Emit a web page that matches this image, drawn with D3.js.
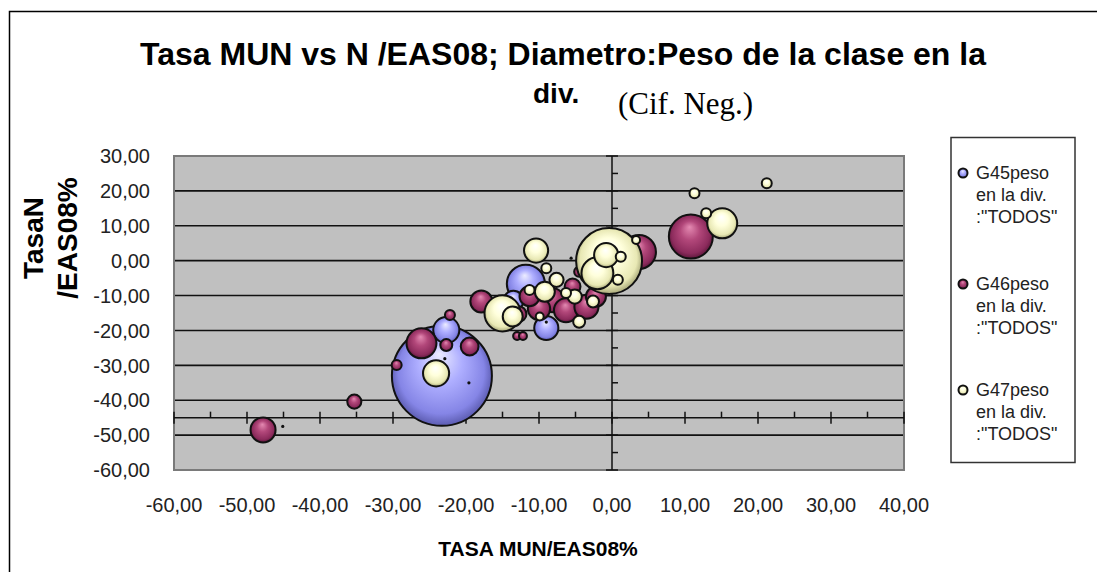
<html>
<style>
  body { margin: 0; background: #ffffff; font-family: "Liberation Sans", Arial, sans-serif; }
  svg { display: block; }
</style>
<script src="https://d3js.org/d3.v7.min.js"></script>
<body>
<svg id="chart"></svg>
</body>
<script>
// each point: [TASA MUN/EAS08 %, TasaN/EAS08 %, peso en la div.]
let g45 = [
  [-23.3, -33.0, 60], [-22.7, -19.9, 4.1], [-11.8, -6.6, 8.7], [-13.5, -11.5, 2.4],
  [-9.0, -19.3, 3.5], [-9.0, -17.6, 0.05]
]
let g46 = [
  [-47.8, -48.5, 3.75], [-35.3, -40.4, 1.2], [-26.1, -23.7, 5.4], [-29.5, -29.9, 0.6],
  [-22.7, -24.2, 0.86], [-19.5, -24.6, 1.9], [-22.2, -15.6, 0.6], [-17.9, -11.7, 2.9],
  [-11.3, -10.2, 2.4], [-8.2, -11.3, 3.5], [-6.3, -14.2, 3.5], [-3.5, -13.2, 3.5],
  [-2.2, -10.3, 2.4], [-5.4, -7.4, 1.5], [-12.8, -15.3, 1.5], [-13.0, -21.6, 0.38],
  [-12.2, -21.6, 0.38], [-10.0, -13.8, 3.0], [-4.5, -3.2, 0.6], [3.7, 2.5, 6.9],
  [10.8, 6.9, 11.6], [-45.1, -47.5, 0.05], [-22.9, -28.1, 0.05], [-19.6, -35.0, 0.05],
  [-5.6, 0.7, 0.05], [-0.3, -4.6, 0.05]
]
let g47 = [
  [-24.1, -32.3, 4.1], [-15.0, -15.1, 7.8], [-13.6, -16.0, 2.4], [-10.4, 2.9, 3.5],
  [-9.0, -2.2, 0.6], [-7.6, -5.5, 1.2], [-9.2, -8.9, 2.4], [-11.3, -8.4, 0.6],
  [-5.1, -10.3, 1.2], [-2.6, -11.7, 0.86], [-4.5, -17.5, 0.86], [-9.9, -16.0, 0.38],
  [-6.3, -9.3, 0.6], [-0.4, -0.1, 26.1], [-2.0, -3.6, 6.1], [-0.8, 1.6, 3.5],
  [1.2, 1.1, 0.6], [0.8, -5.5, 0.6], [3.3, 5.9, 0.38], [15.1, 10.7, 5.4],
  [12.9, 13.6, 0.6], [11.3, 19.3, 0.6], [21.2, 22.2, 0.6]
]
let seriesNames = ['G45peso', 'G46peso', 'G47peso']
let legendLines = ['en la div.', ':"TODOS"']
let xTicks = [-60, -50, -40, -30, -20, -10, 0, 10, 20, 30, 40]
let yTicks = [30, 20, 10, 0, -10, -20, -30, -40, -50, -60]
let xAxisCross = -45

let series = [
  {name: seriesNames[0], data: g45, stops: ['#ececff', '#aeaeff', '#8585e6', '#4a4a99']},
  {name: seriesNames[1], data: g46, stops: ['#e48ab2', '#b2477a', '#8c2b5c', '#4a0f2e']},
  {name: seriesNames[2], data: g47, stops: ['#ffffff', '#ffffdc', '#e8e8b4', '#8a8a5e']}
]

function fmt(v) {
  return d3.format('.2f')(v).replace('.', ',').replace('−', '-')
}

function drawChart() {
  let width = 1097, height = 572
  let svg = d3.select('#chart').attr('width', width).attr('height', height)
  let plot = {left: 174, right: 904, top: 156, bottom: 470}

  let x = d3.scaleLinear().domain([-60, 40]).range([plot.left, plot.right])
  let y = d3.scaleLinear().domain([-60, 30]).range([plot.bottom, plot.top])
  let r = d3.scaleSqrt().domain([0, 60]).range([0, 50])

  // gradients for the 3d bubbles
  let defs = svg.append('defs')
  series.forEach((s, i) => {
    let g = defs.append('radialGradient').attr('id', 'grad' + i)
      .attr('cx', 0.5).attr('cy', 0.5).attr('r', 0.55)
      .attr('fx', 0.47).attr('fy', 0.28)
    g.append('stop').attr('offset', '0%').attr('stop-color', s.stops[0])
    g.append('stop').attr('offset', '40%').attr('stop-color', s.stops[1])
    g.append('stop').attr('offset', '78%').attr('stop-color', s.stops[2])
    g.append('stop').attr('offset', '100%').attr('stop-color', s.stops[3])
  })

  // outer chart frame (cropped on the right and bottom)
  svg.append('path').attr('d', 'M9.5,' + height + ' L9.5,11.5 L' + width + ',11.5')
    .attr('fill', 'none').attr('stroke', '#000').attr('stroke-width', 1.5)

  // title
  svg.append('text').attr('x', 563).attr('y', 65).attr('text-anchor', 'middle')
    .style('font-size', '32px').style('font-weight', 'bold')
    .text('Tasa MUN vs N /EAS08; Diametro:Peso de la clase en la')
  svg.append('text').attr('x', 533).attr('y', 103)
    .style('font-size', '28px').style('font-weight', 'bold').text('div.')
  svg.append('text').attr('x', 618).attr('y', 114)
    .style('font-family', '"Liberation Serif", "Times New Roman", serif')
    .style('font-size', '31px').text('(Cif. Neg.)')

  // plot area
  svg.append('rect').attr('x', plot.left).attr('y', plot.top)
    .attr('width', plot.right - plot.left).attr('height', plot.bottom - plot.top)
    .attr('fill', '#c0c0c0')

  svg.append('g').selectAll('line').data(yTicks.filter(d => d > -60 && d < 30)).enter()
    .append('line')
    .attr('x1', plot.left).attr('x2', plot.right)
    .attr('y1', d => y(d)).attr('y2', d => y(d))
    .attr('stroke', '#111').attr('stroke-width', 1.6)

  svg.append('rect').attr('x', plot.left).attr('y', plot.top)
    .attr('width', plot.right - plot.left).attr('height', plot.bottom - plot.top)
    .attr('fill', 'none').attr('stroke', '#7a7a7a').attr('stroke-width', 2)

  // axes crossing inside the plot
  let ax = svg.append('g').attr('stroke', '#111').attr('stroke-width', 1.5)
  ax.append('line').attr('x1', x(0)).attr('x2', x(0)).attr('y1', plot.top).attr('y2', plot.bottom)
  ax.append('line').attr('x1', plot.left).attr('x2', plot.right)
    .attr('y1', y(xAxisCross)).attr('y2', y(xAxisCross))
  let yMinor = d3.range(-60, 31, 5)
  ax.selectAll('.yt').data(yMinor).enter().append('line').attr('class', 'yt')
    .attr('x1', d => d % 10 === 0 ? x(0) - 6 : x(0)).attr('x2', x(0) + 6)
    .attr('y1', d => y(d)).attr('y2', d => y(d))
  let xMinor = d3.range(-60, 41, 5)
  ax.selectAll('.xt').data(xMinor).enter().append('line').attr('class', 'xt')
    .attr('x1', d => x(d)).attr('x2', d => x(d))
    .attr('y1', y(xAxisCross) - 6)
    .attr('y2', d => d % 10 === 0 ? y(xAxisCross) + 6 : y(xAxisCross))

  // bubbles, series in order, big ones behind
  series.forEach((s, i) => {
    let pts = s.data.slice().sort((a, b) => b[2] - a[2])
    svg.append('g').selectAll('circle').data(pts).enter()
      .append('circle')
      .attr('cx', d => x(d[0]))
      .attr('cy', d => y(d[1]))
      .attr('r', d => Math.max(r(d[2]), 1.6))
      .attr('fill', d => r(d[2]) < 2.5 ? '#111' : 'url(#grad' + i + ')')
      .attr('stroke', '#111')
      .attr('stroke-width', d => r(d[2]) < 2.5 ? 0 : 2)
  })

  // tick labels
  svg.append('g').selectAll('text').data(yTicks).enter().append('text')
    .attr('x', 150).attr('y', d => y(d)).attr('dy', '0.36em')
    .attr('text-anchor', 'end').style('font-size', '20px').attr('fill', '#222')
    .text(d => fmt(d))
  svg.append('g').selectAll('text').data(xTicks).enter().append('text')
    .attr('x', d => x(d)).attr('y', 512)
    .attr('text-anchor', 'middle').style('font-size', '20px').attr('fill', '#222')
    .text(d => fmt(d))

  // axis titles
  svg.append('text').attr('x', 538).attr('y', 556).attr('text-anchor', 'middle')
    .style('font-size', '21px').style('font-weight', 'bold')
    .text('TASA MUN/EAS08%')
  svg.append('text').attr('transform', 'translate(43,238) rotate(-90)')
    .attr('text-anchor', 'middle').style('font-size', '28px').style('font-weight', 'bold')
    .text('TasaN')
  svg.append('text').attr('transform', 'translate(77,238) rotate(-90)')
    .attr('text-anchor', 'middle').style('font-size', '28px').style('font-weight', 'bold')
    .text('/EAS08%')

  // legend
  svg.append('rect').attr('x', 951).attr('y', 137.5).attr('width', 124).attr('height', 325)
    .attr('fill', '#fff').attr('stroke', '#333').attr('stroke-width', 1.5)
  let legendBase = [179, 290, 396]
  series.forEach((s, i) => {
    let g = svg.append('g')
    g.append('circle').attr('cx', 963).attr('cy', legendBase[i] - 6).attr('r', 4.5)
      .attr('fill', 'url(#grad' + i + ')').attr('stroke', '#111').attr('stroke-width', 2)
    let lines = [s.name].concat(legendLines)
    g.selectAll('text').data(lines).enter().append('text')
      .attr('x', 976).attr('y', (d, j) => legendBase[i] + j * 22)
      .style('font-size', '18px').attr('fill', '#222')
      .text(d => d)
  })
}

drawChart()
</script>
</html>
